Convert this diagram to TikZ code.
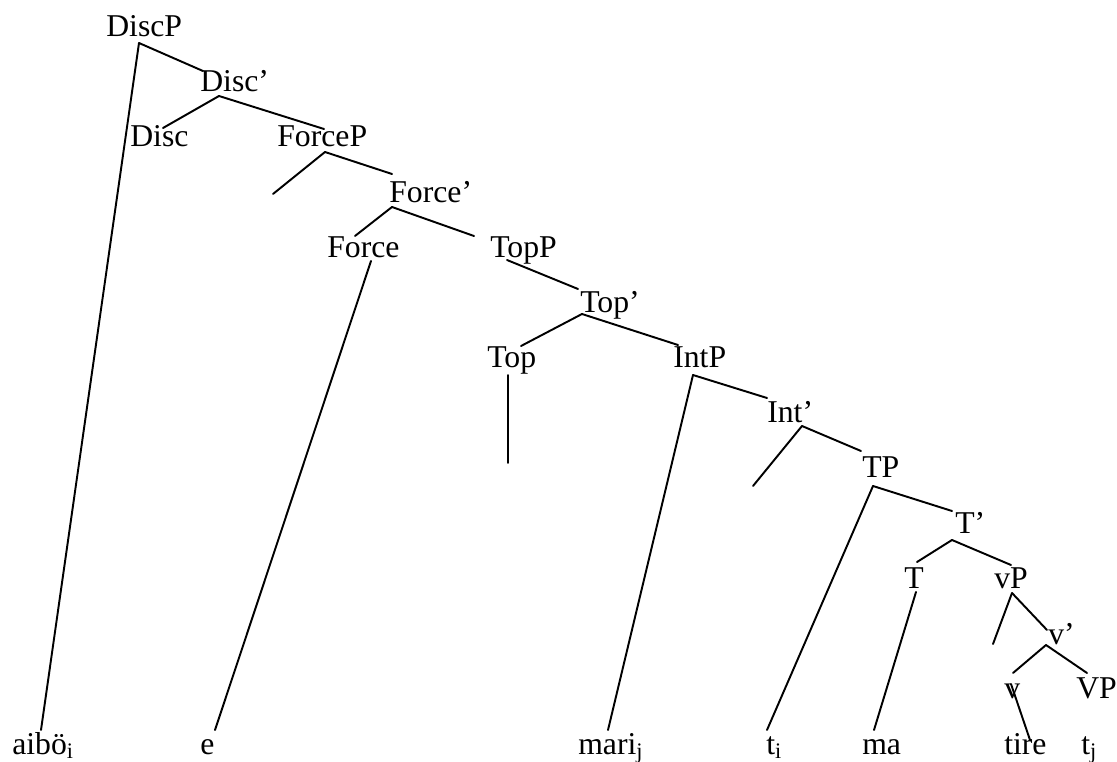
\documentclass[tikz,border=0pt]{standalone}
\usepackage{fontspec}
\setmainfont{Liberation Serif}
\begin{document}
\begin{tikzpicture}[x=0.75pt,y=-0.75pt,
  lbl/.style={inner sep=0pt,anchor=base west,font=\fontsize{23.8}{28}\selectfont},
  branch/.style={line width=1.45pt,line cap=round}]
\useasboundingbox (0,0) rectangle (1117,762);
% labels
\node[lbl] (DiscP) at (106,37) {DiscP};
\node[lbl] (Discbar) at (200,92) {Disc’};
\node[lbl] (Disc) at (130,147) {Disc};
\node[lbl] (ForceP) at (277,147) {ForceP};
\node[lbl] (Forcebar) at (389,203) {Force’};
\node[lbl] (Force) at (327,258) {Force};
\node[lbl] (TopP) at (490,258) {TopP};
\node[lbl] (Topbar) at (580,313) {Top’};
\node[lbl] (Top) at (487,368) {Top};
\node[lbl] (IntP) at (673,368) {IntP};
\node[lbl] (Intbar) at (767,423) {Int’};
\node[lbl] (TP) at (862,478) {TP};
\node[lbl] (Tbar) at (955,533) {T’};
\node[lbl] (T) at (904,588) {T};
\node[lbl] (vP) at (994,588) {vP};
\node[lbl] (vbar) at (1048,644) {v’};
\node[lbl] (v) at (1004,698) {v};
\node[lbl] (VP) at (1076,698) {VP};
\node[lbl] (aiboe) at (12,754) {aibö\textsubscript{i}};
\node[lbl] (e) at (200,754) {e};
\node[lbl] (mari) at (578,754) {mari\textsubscript{j}};
\node[lbl] (ti) at (766,754) {t\textsubscript{i}};
\node[lbl] (ma) at (862,754) {ma};
\node[lbl] (tire) at (1004,754) {tire};
\node[lbl] (tj) at (1081,754) {t\textsubscript{j}};
% branch end points
\coordinate (DiscP-b) at (139,43);
\coordinate (Discbar-t) at (203,71);
\coordinate (aiboe-t) at (41,730);
\coordinate (Discbar-b) at (219,96);
\coordinate (Disc-t) at (163,128);
\coordinate (ForceP-t) at (324,129);
\coordinate (ForceP-b) at (325,152);
\coordinate (ForceP-spec) at (273,194);
\coordinate (Forcebar-t) at (392,174);
\coordinate (Forcebar-b) at (392,207);
\coordinate (Force-t) at (355,236);
\coordinate (TopP-t) at (474,236);
\coordinate (Force-b) at (371,261);
\coordinate (e-t) at (215,730);
\coordinate (TopP-b) at (507,260);
\coordinate (Topbar-t) at (578,289);
\coordinate (Topbar-b) at (582,314);
\coordinate (Top-t) at (521,346);
\coordinate (IntP-t) at (678,345);
\coordinate (Top-b) at (508,375);
\coordinate (Top-end) at (508,463);
\coordinate (IntP-b) at (693,375);
\coordinate (mari-t) at (608,730);
\coordinate (Intbar-t) at (767,398);
\coordinate (Intbar-b) at (802,426);
\coordinate (Intbar-spec) at (753,486);
\coordinate (TP-t) at (861,451);
\coordinate (TP-b) at (873,486);
\coordinate (ti-t) at (767,730);
\coordinate (Tbar-t) at (952,511);
\coordinate (Tbar-b) at (952,540);
\coordinate (T-t) at (917,562);
\coordinate (vP-t) at (1011,565);
\coordinate (T-b) at (916,592);
\coordinate (ma-t) at (874,730);
\coordinate (vP-b) at (1012,593);
\coordinate (vP-spec) at (993,644);
\coordinate (vbar-t) at (1047,630);
\coordinate (vbar-b) at (1046,645);
\coordinate (v-t) at (1013,673);
\coordinate (VP-t) at (1087,673);
\coordinate (v-b) at (1011,684);
\coordinate (tire-t) at (1030,740);
% branches
\draw[branch] (DiscP-b) -- (Discbar-t);
\draw[branch] (DiscP-b) -- (aiboe-t);
\draw[branch] (Discbar-b) -- (Disc-t);
\draw[branch] (Discbar-b) -- (ForceP-t);
\draw[branch] (ForceP-b) -- (ForceP-spec);
\draw[branch] (ForceP-b) -- (Forcebar-t);
\draw[branch] (Forcebar-b) -- (Force-t);
\draw[branch] (Forcebar-b) -- (TopP-t);
\draw[branch] (Force-b) -- (e-t);
\draw[branch] (TopP-b) -- (Topbar-t);
\draw[branch] (Topbar-b) -- (Top-t);
\draw[branch] (Topbar-b) -- (IntP-t);
\draw[branch] (Top-b) -- (Top-end);
\draw[branch] (IntP-b) -- (mari-t);
\draw[branch] (IntP-b) -- (Intbar-t);
\draw[branch] (Intbar-b) -- (Intbar-spec);
\draw[branch] (Intbar-b) -- (TP-t);
\draw[branch] (TP-b) -- (ti-t);
\draw[branch] (TP-b) -- (Tbar-t);
\draw[branch] (Tbar-b) -- (T-t);
\draw[branch] (Tbar-b) -- (vP-t);
\draw[branch] (T-b) -- (ma-t);
\draw[branch] (vP-b) -- (vP-spec);
\draw[branch] (vP-b) -- (vbar-t);
\draw[branch] (vbar-b) -- (v-t);
\draw[branch] (vbar-b) -- (VP-t);
\draw[branch] (v-b) -- (tire-t);
\end{tikzpicture}
\end{document}
